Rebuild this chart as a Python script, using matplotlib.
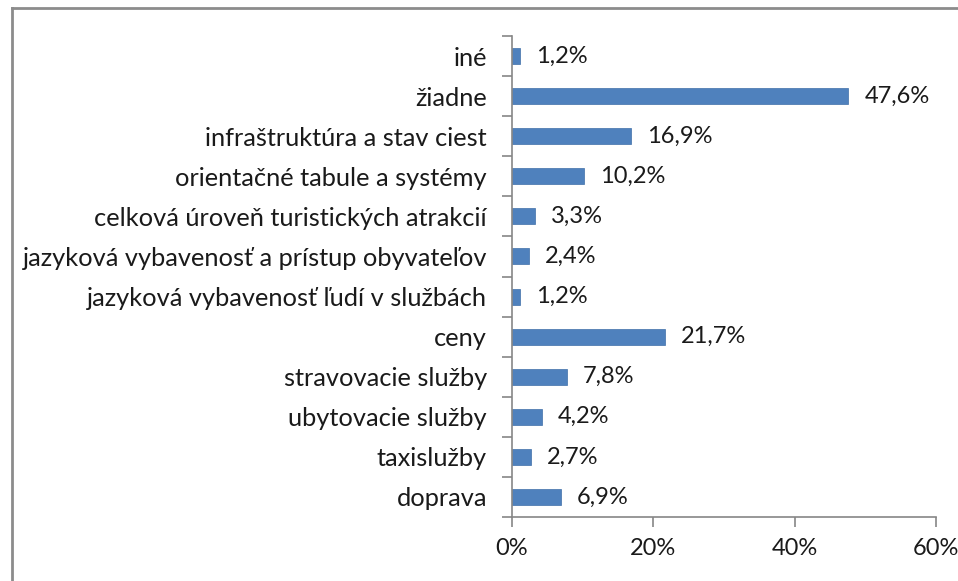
import matplotlib
matplotlib.use("Agg")
import matplotlib.pyplot as plt
from matplotlib.lines import Line2D
import numpy as np

categories = [
    "iné",
    "žiadne",
    "infraštruktúra a stav ciest",
    "orientačné tabule a systémy",
    "celková úroveň turistických atrakcií",
    "jazyková vybavenosť a prístup obyvateľov",
    "jazyková vybavenosť ľudí v službách",
    "ceny",
    "stravovacie služby",
    "ubytovacie služby",
    "taxislužby",
    "doprava",
]
values = [1.2, 47.6, 16.9, 10.2, 3.3, 2.4, 1.2, 21.7, 7.8, 4.2, 2.7, 6.9]
x_ticks = [0, 20, 40, 60]
x_tick_labels = ["0%", "20%", "40%", "60%"]

plt.rcParams["font.family"] = ["Lato", "DejaVu Sans"]
bar_color = "#4F81BD"
axis_color = "#868686"
text_color = "#1a1a1a"

fig = plt.figure(figsize=(9.58, 5.81), dpi=100)
W, H = 958, 581
ax = fig.add_axes([512 / W, 1 - 517 / H, (936 - 512) / W, (517 - 36) / H])

y = np.arange(len(categories))
ax.barh(y, values, height=0.4, color=bar_color, edgecolor="#3f6fa8", linewidth=0.5)
ax.set_ylim(len(categories) - 0.5, -0.5)
ax.set_xlim(0, 60)

for yi, v in zip(y, values):
    ax.annotate(f"{v:.1f}%".replace(".", ","), xy=(v, yi), xytext=(11.5, 0),
                textcoords="offset points", va="center", ha="left",
                fontsize=17, color=text_color)

ax.set_yticks(y)
ax.set_yticklabels(categories, fontsize=18.3, color=text_color)
ax.tick_params(axis="y", which="major", length=0, pad=18)
ax.set_yticks(np.arange(-0.5, len(categories)), minor=True)
ax.tick_params(axis="y", which="minor", length=7, color=axis_color, width=1.2, direction="out")

ax.set_xticks(x_ticks)
ax.set_xticklabels(x_tick_labels, fontsize=17, color=text_color)
ax.tick_params(axis="x", length=7, color=axis_color, width=1.2, direction="out", pad=8)

for side in ["top", "right"]:
    ax.spines[side].set_visible(False)
for side in ["left", "bottom"]:
    ax.spines[side].set_color(axis_color)
    ax.spines[side].set_linewidth(1.2)

# outer frame on the left and top edges
fig.add_artist(Line2D([12 / W, 12 / W], [0, 1 - 8 / H], transform=fig.transFigure,
                      color="#8c8c8c", linewidth=2))
fig.add_artist(Line2D([12 / W, 1], [1 - 8 / H, 1 - 8 / H], transform=fig.transFigure,
                      color="#8c8c8c", linewidth=2))

fig.savefig("out.png", dpi=100)
